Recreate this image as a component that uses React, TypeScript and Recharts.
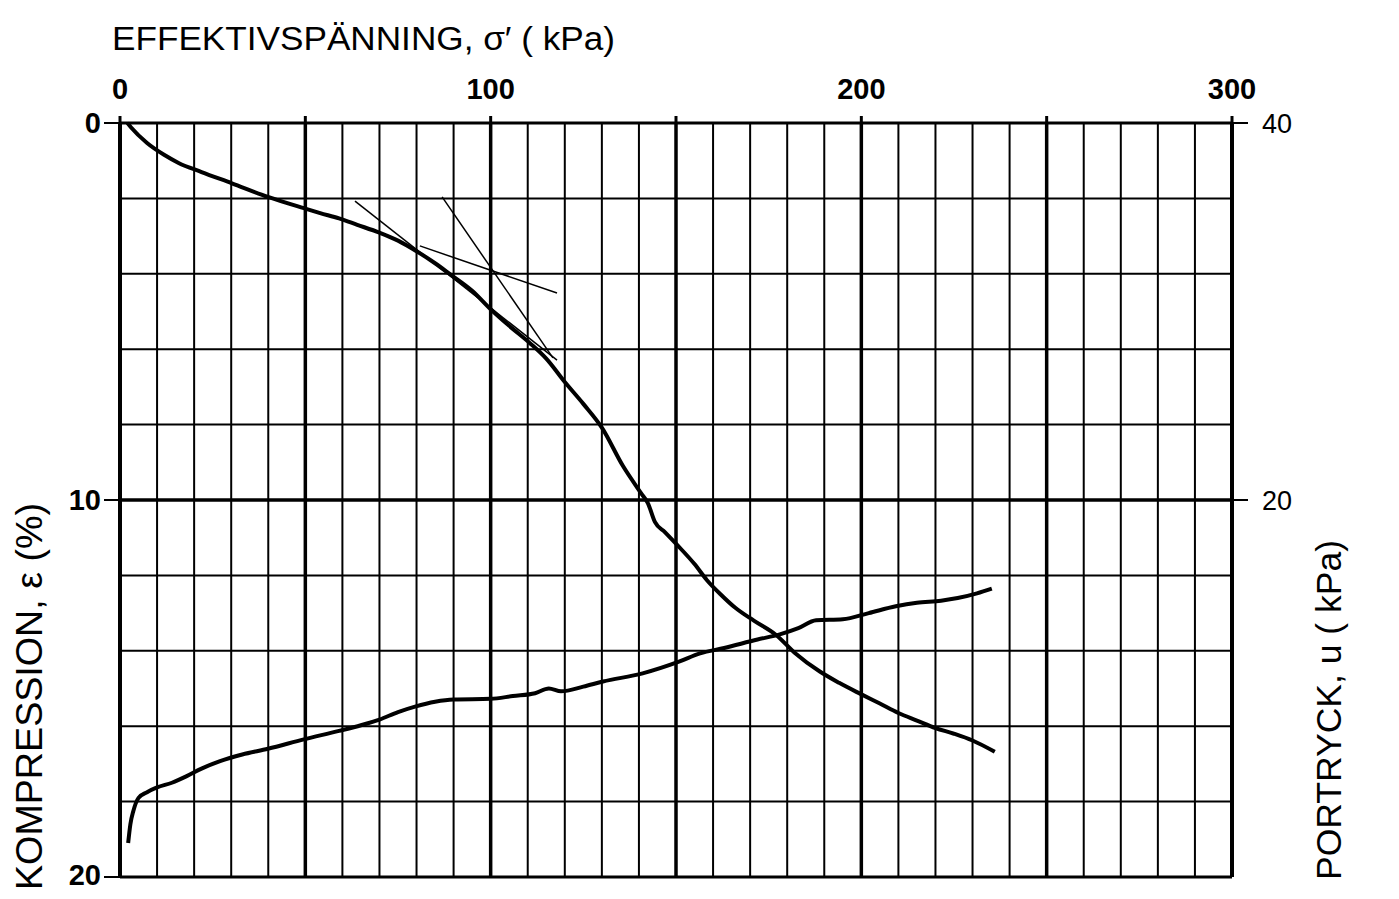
import React from "react";
import { ComposedChart, Line, XAxis, YAxis, ReferenceLine } from "recharts";

// Effective stress (kPa) vs compression (%)
const sigmaComp = [2, 3, 7.3, 12, 15.8, 22, 30.2, 39.9, 49.6, 54, 59.1, 64, 70, 75, 80, 85, 89.3, 95, 100, 105, 110.6, 115, 120, 125, 130, 135.7, 140.8, 142.4, 144.3, 147, 150.3, 155, 158.3, 162, 166, 171, 177, 182, 188.8, 194, 199.9, 205, 210, 215, 220, 225, 230, 236];
const epsComp = [0, 0.12, 0.53, 0.85, 1.06, 1.3, 1.6, 1.96, 2.26, 2.39, 2.53, 2.7, 2.91, 3.12, 3.4, 3.72, 4.03, 4.45, 4.94, 5.38, 5.84, 6.25, 6.87, 7.45, 8.08, 9.1, 9.85, 10.08, 10.58, 10.85, 11.19, 11.7, 12.12, 12.5, 12.86, 13.2, 13.58, 14.05, 14.55, 14.85, 15.15, 15.4, 15.65, 15.85, 16.05, 16.2, 16.38, 16.68];

// Effective stress (kPa) vs pore pressure (kPa)
const sigmaPore = [2.2, 2.8, 3.6, 5, 7.3, 10, 14, 18, 22, 27, 33, 39.9, 49.6, 59.1, 65, 70, 75, 79.6, 85, 90, 100, 106, 112, 115.7, 119, 125, 130.3, 141, 150.8, 156.5, 163, 172, 178, 183, 187.8, 195, 202, 209.3, 215, 221.5, 226, 231.2, 235.2];
const uPore = [1.8, 2.8, 3.5, 4.2, 4.5, 4.75, 5.0, 5.35, 5.75, 6.15, 6.5, 6.8, 7.3, 7.75, 8.05, 8.35, 8.75, 9.04, 9.3, 9.42, 9.45, 9.6, 9.75, 10.0, 9.85, 10.1, 10.37, 10.8, 11.42, 11.86, 12.15, 12.6, 12.87, 13.2, 13.62, 13.67, 14.0, 14.36, 14.55, 14.66, 14.8, 15.05, 15.3];

// Construction (tangent) lines, sigma / epsilon pairs
const tangentA_s = [63.4, 117.9];
const tangentA_e = [2.07, 6.29];
const tangentB_s = [86.9, 116.8];
const tangentB_e = [1.96, 6.23];
const tangentC_s = [80.9, 117.9];
const tangentC_e = [3.26, 4.51];

// Axis ticks
const sigmaTicks = [0, 50, 100, 150, 200, 250, 300];
const sigmaLabels = [0, 100, 200, 300];
const epsTicks = [0, 10, 20];
const uTicks = [0, 20, 40];

// Grid
const gridMinorX = [10, 20, 30, 40, 60, 70, 80, 90, 110, 120, 130, 140, 160, 170, 180, 190, 210, 220, 230, 240, 260, 270, 280, 290];
const gridMajorX = [50, 100, 150, 200, 250];
const gridMinorY = [2, 4, 6, 8, 12, 14, 16, 18];
const gridMajorY = [10];

const zip = (xs: number[], ys: number[], key: string) => xs.map((s, i) => ({ s, [key]: ys[i] }));

const compData = zip(sigmaComp, epsComp, "e");
const poreData = zip(sigmaPore, uPore, "u");
const tanA = zip(tangentA_s, tangentA_e, "e");
const tanB = zip(tangentB_s, tangentB_e, "e");
const tanC = zip(tangentC_s, tangentC_e, "e");

const FONT = '"Liberation Sans", Arial, sans-serif';
const W = 1383;
const H = 883;

const TopTick = (props: any) => {
  const { x, y, payload } = props;
  if (!sigmaLabels.includes(payload.value)) return null;
  return (
    <text x={x} y={y} dy={-17} textAnchor="middle" fontFamily={FONT} fontWeight={700} fontSize={29} fill="#000">
      {payload.value}
    </text>
  );
};

export default function App() {
  return (
    <div style={{ position: "relative", width: W, height: H, background: "#fff" }}>
      <div style={{ position: "absolute", top: -8, left: -8, width: 1399, height: 3, background: "#000" }} />
      <ComposedChart width={W} height={H} margin={{ top: 75, left: 52, right: 99, bottom: 14 }}>
        <XAxis
          xAxisId="s"
          type="number"
          dataKey="s"
          orientation="top"
          domain={[0, 300]}
          ticks={sigmaTicks}
          height={40}
          tickSize={7}
          tickMargin={0}
          tick={<TopTick />}
          axisLine={{ stroke: "#000", strokeWidth: 3 }}
          tickLine={{ stroke: "#000", strokeWidth: 3 }}
          allowDataOverflow
        />
        <YAxis
          yAxisId="eps"
          type="number"
          domain={[0, 20]}
          reversed
          ticks={epsTicks}
          width={60}
          tickSize={16}
          tickMargin={3}
          axisLine={{ stroke: "#000", strokeWidth: 4 }}
          tickLine={{ stroke: "#000", strokeWidth: 2 }}
          tick={{ fill: "#000", fontFamily: FONT, fontWeight: 700, fontSize: 29 }}
        />
        <YAxis
          yAxisId="u"
          orientation="right"
          type="number"
          domain={[0, 40]}
          ticks={uTicks}
          width={60}
          tickSize={16}
          tickMargin={14}
          axisLine={{ stroke: "#000", strokeWidth: 4 }}
          tickLine={{ stroke: "#000", strokeWidth: 2 }}
          tick={{ fill: "#000", fontFamily: FONT, fontWeight: 400, fontSize: 27 }}
        />
        {gridMinorX.map((v) => (
          <ReferenceLine key={"mx" + v} xAxisId="s" yAxisId="eps" x={v} stroke="#000" strokeWidth={2} />
        ))}
        {gridMajorX.map((v) => (
          <ReferenceLine key={"Mx" + v} xAxisId="s" yAxisId="eps" x={v} stroke="#000" strokeWidth={3.5} />
        ))}
        {gridMinorY.map((v) => (
          <ReferenceLine key={"my" + v} xAxisId="s" yAxisId="eps" y={v} stroke="#000" strokeWidth={2} />
        ))}
        {gridMajorY.map((v) => (
          <ReferenceLine key={"My" + v} xAxisId="s" yAxisId="eps" y={v} stroke="#000" strokeWidth={3.5} />
        ))}
        <ReferenceLine xAxisId="s" yAxisId="eps" y={20} stroke="#000" strokeWidth={3} />
        <Line xAxisId="s" yAxisId="eps" data={tanA} dataKey="e" type="linear" stroke="#000" strokeWidth={1.5} dot={false} isAnimationActive={false} />
        <Line xAxisId="s" yAxisId="eps" data={tanB} dataKey="e" type="linear" stroke="#000" strokeWidth={1.5} dot={false} isAnimationActive={false} />
        <Line xAxisId="s" yAxisId="eps" data={tanC} dataKey="e" type="linear" stroke="#000" strokeWidth={1.5} dot={false} isAnimationActive={false} />
        <Line xAxisId="s" yAxisId="eps" data={compData} dataKey="e" type="monotone" stroke="#000" strokeWidth={4} dot={false} isAnimationActive={false} />
        <Line xAxisId="s" yAxisId="u" data={poreData} dataKey="u" type="monotone" stroke="#000" strokeWidth={4} dot={false} isAnimationActive={false} />
      </ComposedChart>
      <svg width={W} height={H} style={{ position: "absolute", left: 0, top: 0, pointerEvents: "none" }}>
        <text x={104} y={42} fontFamily={FONT} fontSize={34} fill="#000" textLength={503} lengthAdjust="spacingAndGlyphs">
          EFFEKTIVSPÄNNING, σ′ ( kPa)
        </text>
        <text transform="translate(34,882) rotate(-90)" x={0} y={0} fontFamily={FONT} fontSize={36} fill="#000" textLength={387} lengthAdjust="spacingAndGlyphs">
          KOMPRESSION, ε (%)
        </text>
        <text transform="translate(1333,872) rotate(-90)" x={0} y={0} fontFamily={FONT} fontSize={35} fill="#000" textLength={340} lengthAdjust="spacingAndGlyphs">
          PORTRYCK, u ( kPa)
        </text>
      </svg>
    </div>
  );
}
